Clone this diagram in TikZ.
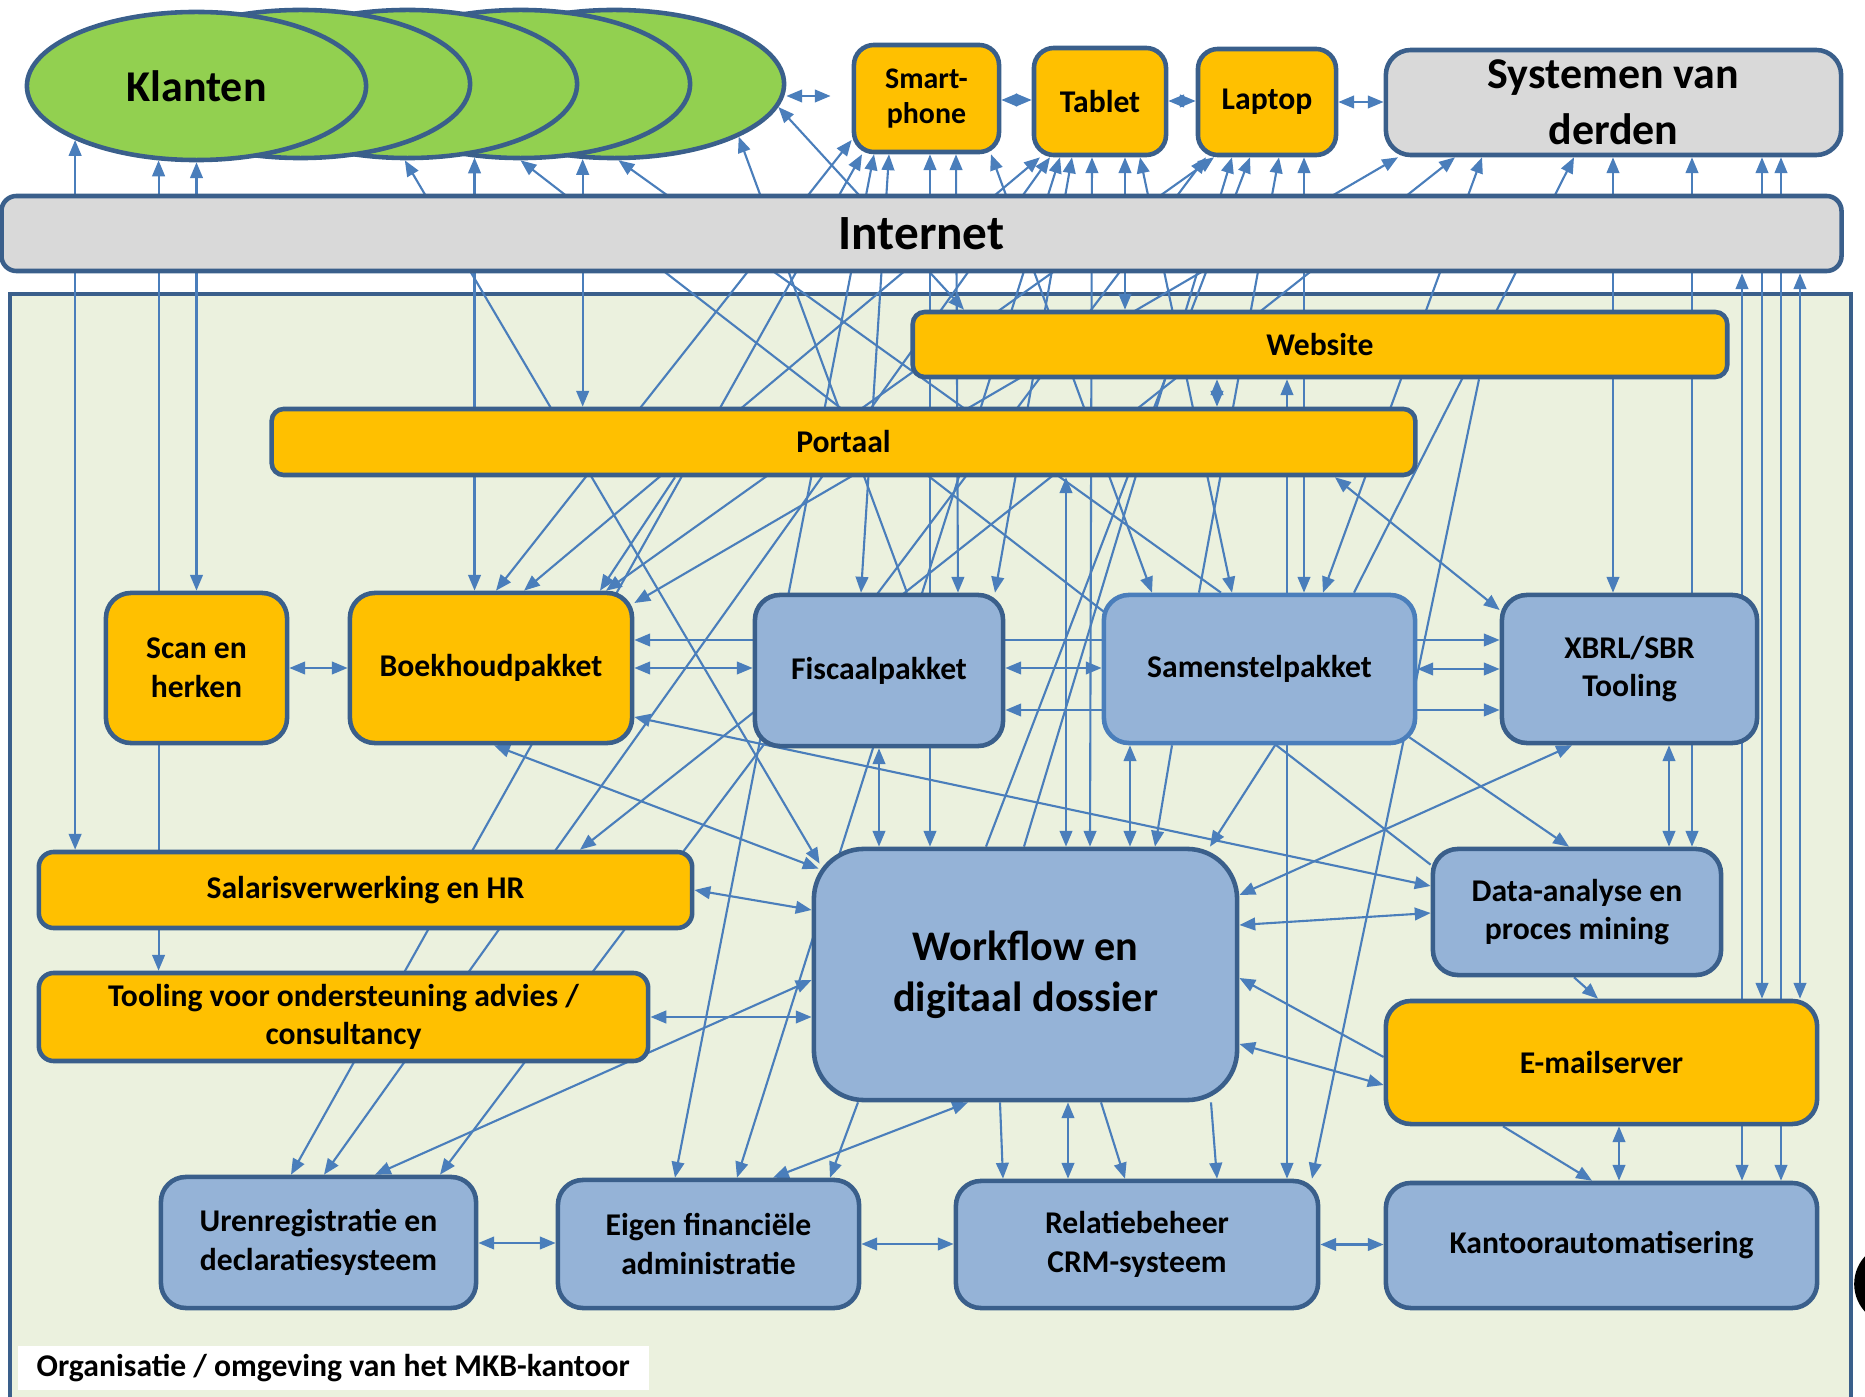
\documentclass[tikz,border=0pt]{standalone}
\usepackage{fontspec}
\setmainfont{Carlito}
\usetikzlibrary{arrows.meta,shapes.geometric}
\pgfdeclarelayer{bg}
\pgfsetlayers{bg,main}
\definecolor{orng}{HTML}{FFC000}
\definecolor{lblue}{HTML}{95B3D7}
\definecolor{lgrey}{HTML}{D9D9D9}
\definecolor{lgreen}{HTML}{92D050}
\definecolor{boxline}{HTML}{3A5F8B}
\definecolor{wireblue}{HTML}{4A7EBB}
\definecolor{orgbg}{HTML}{EBF1DE}
\tikzset{
  >={Triangle[length=4.5pt,width=3.6pt]},
  wire/.style={draw=wireblue, line width=0.6pt},
  box/.style={draw=boxline, line width=1.3pt, rounded corners=0.25cm, inner sep=0pt,
    align=center, font=\bfseries\fontsize{9}{11}\selectfont},
  obox/.style={box, fill=orng},
  bbox/.style={box, fill=lblue},
  gbox/.style={box, fill=lgrey},
  klant/.style={ellipse, draw=boxline, line width=1.3pt, fill=lgreen,
    minimum width=3.39cm, minimum height=1.48cm, inner sep=0pt},
  bigfont/.style={font=\bfseries\fontsize{12.5}{16}\selectfont}
}
\begin{document}
\begin{tikzpicture}[x=0.01cm, y=-0.01cm]
\useasboundingbox (0,0) rectangle (1865,1397);

% externe partijen
\node[klant] (e5) at (614.5,84) {};
\node[klant] (e4) at (520.5,84) {};
\node[klant] (e3) at (407.5,84) {};
\node[klant] (e2) at (300.5,84) {};
\node[klant, bigfont] (e1) at (196.5,86) {Klanten};

\node[obox, rounded corners=0.2cm, minimum width=1.45cm, minimum height=1.07cm,
  font=\bfseries\fontsize{8.5}{10}\selectfont] (sp) at (926.5,98.5) {Smart-\\phone};
\node[obox, rounded corners=0.2cm, minimum width=1.32cm, minimum height=1.07cm] (tb) at (1100,101.5) {Tablet};
\node[obox, rounded corners=0.2cm, minimum width=1.38cm, minimum height=1.06cm] (lt) at (1267,102) {Laptop};
\node[gbox, bigfont, minimum width=4.55cm, minimum height=1.05cm] (sy) at (1613.5,102.5) {Systemen van\\derden};
\node[gbox, rounded corners=0.15cm, minimum width=18.39cm, minimum height=0.75cm,
  font=\bfseries\fontsize{14}{16}\selectfont] (int) at (921.5,233.5) {Internet};

% organisatie
\node[obox, rounded corners=0.12cm, minimum width=8.14cm, minimum height=0.65cm] (web) at (1320,344.5) {Website};
\node[obox, rounded corners=0.12cm, minimum width=11.43cm, minimum height=0.66cm] (por) at (843.5,442) {Portaal};
\node[obox, minimum width=1.81cm, minimum height=1.5cm] (scn) at (196.5,668) {Scan en\\herken};
\node[obox, minimum width=2.82cm, minimum height=1.5cm] (boe) at (491,668) {Boekhoudpakket};
\node[bbox, minimum width=2.48cm, minimum height=1.51cm] (fis) at (879,670.5) {Fiscaalpakket};
\node[bbox, draw=wireblue, minimum width=3.11cm, minimum height=1.48cm] (sam) at (1259.5,669) {Samenstelpakket};
\node[bbox, minimum width=2.55cm, minimum height=1.48cm] (xbr) at (1629.5,669) {XBRL/SBR\\Tooling};
\node[obox, rounded corners=0.15cm, minimum width=6.53cm, minimum height=0.76cm] (sal) at (365.5,890) {Salarisverwerking en HR};
\node[obox, rounded corners=0.15cm, minimum width=6.09cm, minimum height=0.88cm] (too) at (343.5,1017) {Tooling voor ondersteuning advies /\\consultancy};
\node[bbox, rounded corners=0.5cm, minimum width=4.23cm, minimum height=2.51cm,
  font=\bfseries\fontsize{12}{14.5}\selectfont] (wf) at (1025.5,974.5) {Workflow en\\digitaal dossier};
\node[bbox, minimum width=2.88cm, minimum height=1.26cm] (dat) at (1577,912) {Data-analyse en\\proces mining};
\node[obox, minimum width=4.31cm, minimum height=1.23cm] (eml) at (1601.5,1062.5) {E-mailserver};
\node[bbox, minimum width=3.15cm, minimum height=1.31cm] (ure) at (318.5,1242.5) {Urenregistratie en\\declaratiesysteem};
\node[bbox, minimum width=3.01cm, minimum height=1.28cm] (eig) at (708.5,1244) {Eigen financiële\\administratie};
\node[bbox, minimum width=3.62cm, minimum height=1.27cm] (rel) at (1137,1244.5) {Relatiebeheer\\CRM-systeem};
\node[bbox, minimum width=4.31cm, minimum height=1.25cm] (kan) at (1601.5,1245.5) {Kantoorautomatisering};

\node[fill=white, anchor=west, inner xsep=0.19cm, inner ysep=0pt, minimum height=0.43cm,
  font=\bfseries\fontsize{9}{11}\selectfont] (orglbl) at (17,1368)
  {Organisatie / omgeving van het MKB-kantoor};
\draw[line width=5pt] (1895,1284) circle (0.32cm);

\begin{pgfonlayer}{bg}
\fill[orgbg] (10,294) rectangle (1851,1420);
\draw[boxline, line width=1.3pt] (10,1420) -- (10,294) -- (1851,294) -- (1851,1420);

% tussen de externe partijen
\draw[wire,<->,shorten >=6pt] (e5.east |- 0,96) -- (sp.west |- 0,96);
\draw[wire,<->] (sp.east |- 0,100) -- (tb.west |- 0,100);
\draw[wire,<->] (tb.east |- 0,101) -- (lt.west |- 0,101);
\draw[wire,<->] (lt.east |- 0,102) -- (sy.west |- 0,102);

% klanten via internet
\draw[wire,<->] (e1.204) -- (sal.north -| e1.204);
\draw[wire,<->] (e1.243) -- (too.north -| e1.243);
\draw[wire,<->] (e1.south) -- (scn.north);
\draw[wire,<->] (e3.268) -- ([shift={(8,17)}]wf.north west);
\draw[wire,<->] (e4.238) -- (boe.north -| e4.238);
\draw[wire,<-] (e4.270) -- ([shift={(0,18)}]dat.north west);
\draw[wire,<->] (e5.247) -- (por.north -| e5.247);
\draw[wire,<-] (e5.273) -- (sam.north -| 1221,0);
\draw[wire,<-] (e5.337) -- (fis.north -| 907,0);
\draw[wire,<->] (e5.352) -- (web.north -| 964,0);

% apparaten via internet
\draw[wire,<->] (sp.west |- 0,140) -- (boe.north -| 496,0);
\draw[wire,<->] (sp.south -| 862,0) -- (ure.north -| 291,0);
\draw[wire,<->] (sp.south -| 874,0) -- (eig.north -| 675,0);
\draw[wire,<->] (sp.south -| 889,0) -- (fis.north -| 861,0);
\draw[wire,<->] (sp.south -| 930,0) -- (wf.north -| 930,0);
\draw[wire,<->] (sp.south -| 956,0) -- (fis.north -| 958,0);
\draw[wire,<->] (sp.south -| 991,0) -- (sam.north -| 1152,0);
\draw[wire,<->] (tb.south -| 1040,0) -- (boe.north -| 524,0);
\draw[wire,<->] (tb.south -| 1050,0) -- (ure.north -| 324,0);
\draw[wire,<->] (tb.south -| 1060,0) -- (eig.north -| 737,0);
\draw[wire,<->] (tb.south -| 1072,0) -- (fis.north -| 995,0);
\draw[wire,<->] (tb.south -| 1092,0) -- (wf.north -| 1090,0);
\draw[wire,<->] (tb.south -| 1125,0) -- (web.north -| 1125,0);
\draw[wire,<->] (tb.south -| 1140,0) -- (sam.north -| 1232,0);
\draw[wire,<->] (lt.south -| 1206,0) -- (ure.north -| 440,0);
\draw[wire,<->] (lt.south -| 1214,0) -- (boe.north -| 606,0);
\draw[wire,<-] (lt.south -| 1232,0) -- (wf.north -| 1024,0);
\draw[wire,<-] (lt.south -| 1250,0) -- (wf.north -| 986,0);
\draw[wire,<-] (lt.south -| 1279,0) -- (sam.north -| 1199,0);
\draw[wire,<->] (lt.south -| 1304,0) -- (sam.north -| 1304,0);

% systemen van derden via internet
\draw[wire,<->] (sy.south -| 1398,0) -- (boe.east |- 0,603);
\draw[wire,<->] (sy.south -| 1455,0) -- (sal.north -| 580,0);
\draw[wire,<->] (sy.south -| 1482,0) -- (sam.north -| 1323,0);
\draw[wire,<-] (sy.south -| 1574,0) -- (sam.north -| 1354,0);
\draw[wire,<->] (sy.south -| 1613,0) -- (xbr.north -| 1613,0);
\draw[wire,<->] (sy.south -| 1692,0) -- (dat.north -| 1692,0);
\draw[wire,<->] (sy.south -| 1762,0) -- (eml.north -| 1762,0);
\draw[wire,<->] (sy.south -| 1781,0) -- (kan.north -| 1781,0);
\draw[wire,<->] (int.south -| 1742,0) -- (kan.north -| 1742,0);
\draw[wire,<->] (int.south -| 1800,0) -- (eml.north -| 1800,0);

% website en portaal
\draw[wire,->] (web.south -| 1479,0) -- (rel.north -| 1312,0);
\draw[wire,<->] (web.south -| 1287,0) -- (rel.north -| 1287,0);
\draw[wire,<->] (web.south -| 1217,0) -- (por.north -| 1217,0);
\draw[wire,<->] (por.south -| 1335,0) -- (xbr.west |- 0,610);
\draw[wire,<->] (por.south -| 1066,0) -- (wf.north -| 1066,0);
\draw[wire,->] (por.south -| 675,0) -- (boe.north -| 600,0);

% pakketten
\draw[wire,<->] (scn.east) -- (boe.west);
\draw[wire,<->] (boe.east |- 0,640) -- (xbr.west |- 0,640);
\draw[wire,<->] (boe.east) -- (fis.west |- boe.east);
\draw[wire,<->] (fis.east |- 0,668) -- (sam.west |- 0,668);
\draw[wire,<->] (sam.east) -- (xbr.west |- sam.east);
\draw[wire,<->] (fis.east |- 0,710) -- (xbr.west |- 0,710);

% workflow en de rest
\draw[wire,<->] (boe.south -| 494,0) -- ([shift={(7,22)}]wf.north west);
\draw[wire,<->] (sal.east) -- (wf.west |- 0,910);
\draw[wire,<->] (too.east) -- (wf.west |- too.east);
\draw[wire,<->] (ure.north -| 375,0) -- (wf.west |- 0,980);
\draw[wire,<->] (boe.east |- 0,717) -- (dat.west |- 0,886);
\draw[wire,<->] (fis.south -| 879,0) -- (wf.north -| 879,0);
\draw[wire,<->] (sam.south -| 1130,0) -- (wf.north -| 1130,0);
\draw[wire,->] (sam.south -| 1172,0) -- (wf.north -| 1155,0);
\draw[wire,->] (sam.south -| 1275,0) -- (wf.north -| 1210,0);
\draw[wire,->] ([shift={(-8,-8)}]sam.south east) -- (dat.north -| 1569,0);
\draw[wire,<->] (xbr.south -| 1572,0) -- (wf.east |- 0,895);
\draw[wire,<->] (xbr.south -| 1669,0) -- (dat.north -| 1669,0);
\draw[wire,<->] (wf.east |- 0,925) -- (dat.west |- 0,913);
\draw[wire,->] (dat.south -| 1574,0) -- (eml.north -| 1598,0);
\draw[wire,->] (eml.west |- 0,1057) -- (wf.east |- 0,978);
\draw[wire,<->] (wf.east |- 0,1044) -- (eml.west |- 0,1085);
\draw[wire,->] (eml.south -| 1503,0) -- (kan.north -| 1592,0);
\draw[wire,<->] (eml.south -| 1619,0) -- (kan.north -| 1619,0);
\draw[wire,->] (wf.south -| 858,0) -- (eig.north -| 830,0);
\draw[wire,<->] (wf.south -| 968,0) -- (eig.north -| 773,0);
\draw[wire,->] (wf.south -| 1000,0) -- (rel.north -| 1003,0);
\draw[wire,<->] (wf.south -| 1068,0) -- (rel.north -| 1068,0);
\draw[wire,->] (wf.south -| 1101,0) -- (rel.north -| 1125,0);
\draw[wire,->] (wf.south -| 1211,0) -- (rel.north -| 1217,0);
\draw[wire,<->] (ure.east |- 0,1243) -- (eig.west |- 0,1243);
\draw[wire,<->] (eig.east) -- (rel.west |- eig.east);
\draw[wire,<->] (rel.east) -- (kan.west |- rel.east);
\end{pgfonlayer}
\end{tikzpicture}
\end{document}
